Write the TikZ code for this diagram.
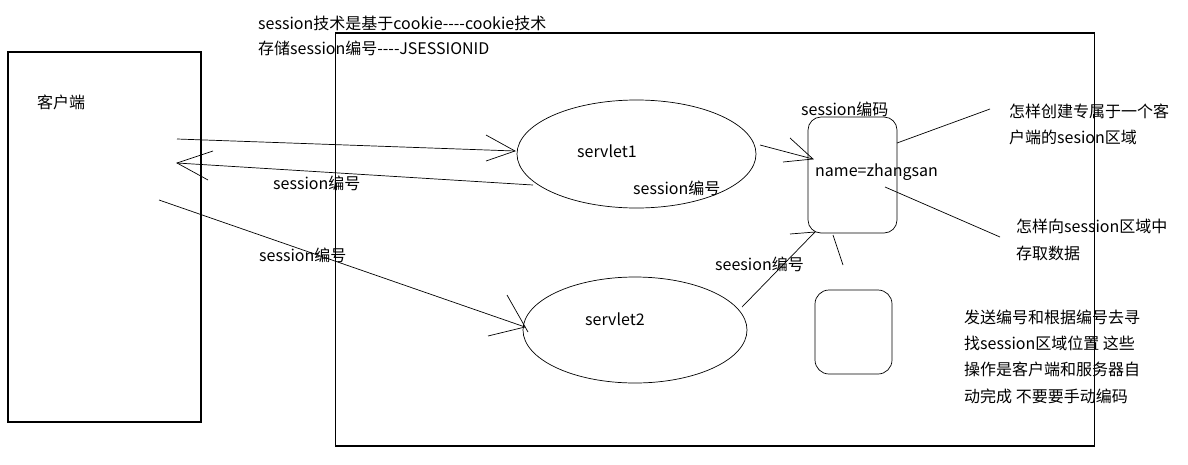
\documentclass[tikz,border=0pt]{standalone}
\usepackage{fontspec}
\setmainfont{Noto Sans CJK SC}[Ligatures=TeXOff]
\usetikzlibrary{shapes.geometric}
\begin{document}
\begin{tikzpicture}[x=1pt,y=-1pt,
  frame/.style={draw,line width=1.1pt},
  pen/.style={draw,line width=0.7pt},
  lbl/.style={anchor=west,inner sep=0pt,font=\fontsize{16pt}{20pt}\selectfont},
  oval/.style={draw,line width=0.7pt,ellipse,inner sep=0pt}]
\useasboundingbox[fill=white] (0,0) rectangle (1188,464);

% client and server frames
\node[frame,minimum width=193pt,minimum height=370pt,inner sep=0pt] (client) at (104.5,237) {};
\node[frame,minimum width=759pt,minimum height=413pt,inner sep=0pt] (server) at (715,239.5) {};
\node[lbl] (clientlbl) at (37,102) {客户端};

% servlets
\node[oval,minimum width=239pt,minimum height=108pt] (s1) at (636.5,154) {};
\node[oval,minimum width=224pt,minimum height=106pt] (s2) at (635,330) {};
\node[lbl] (s1lbl) at (577,151) {servlet1};
\node[lbl] (s2lbl) at (585,319) {servlet2};

% session areas
\node[pen,rounded corners=13pt,minimum width=89pt,minimum height=116pt,inner sep=0pt] (area) at (852.5,175) {};
\node[pen,rounded corners=14pt,minimum width=77pt,minimum height=84pt,inner sep=0pt] (area2) at (853.5,332) {};
\node[lbl] (arealbl) at (801,109) {session编码};
\node[lbl] (data) at (815,172) {name=zhangsan};

% texts
\node[lbl] (t1) at (258,23) {session技术是基于cookie----cookie技术};
\node[lbl] (t2) at (258,48) {存储session编号----JSESSIONID};
\node[lbl] (n1) at (273,183) {session编号};
\node[lbl] (n2) at (633,188) {session编号};
\node[lbl] (n3) at (259,255) {session编号};
\node[lbl] (n4) at (715,264) {seesion编号};
\node[lbl] (q1a) at (1009,111) {怎样创建专属于一个客};
\node[lbl] (q1b) at (1009,137) {户端的sesion区域};
\node[lbl] (q2a) at (1016,226) {怎样向session区域中};
\node[lbl] (q2b) at (1016,253) {存取数据};
\node[lbl] (r1) at (964,317) {发送编号和根据编号去寻};
\node[lbl] (r2) at (964,343) {找session区域位置 这些};
\node[lbl] (r3) at (964,369) {操作是客户端和服务器自};
\node[lbl] (r4) at (964,396) {动完成 不要要手动编码};

% connector end points
\coordinate (a1s) at (177,139);
\coordinate (a1t) at (515,151);
\coordinate (a1u) at (486,135);
\coordinate (a1v) at (486,161);
\coordinate (a2s) at (533,185);
\coordinate (a2t) at (177,163);
\coordinate (a2u) at (213,151);
\coordinate (a2v) at (208,180);
\coordinate (a3s) at (159,200);
\coordinate (a3t) at (525,327);
\coordinate (a3u) at (507,295);
\coordinate (a3w) at (528,332);
\coordinate (a3v) at (488,336);
\coordinate (a4s) at (760,145);
\coordinate (a4t) at (813,159);
\coordinate (a4u) at (790,138);
\coordinate (a4v) at (783,162);
\coordinate (a5s) at (742,307);
\coordinate (a5t) at (815,232);
\coordinate (a5u) at (790,234);
\coordinate (a5w) at (833,235);
\coordinate (a5v) at (843,265);
\coordinate (p1s) at (897,143);
\coordinate (p1t) at (990,109);
\coordinate (p2s) at (885,187);
\coordinate (p2t) at (1000,237);

% request from client to servlet1
\draw[pen] (a1s) -- (a1t);
\draw[pen] (a1u) -- (a1t) -- (a1v);
% response back to client
\draw[pen] (a2s) -- (a2t);
\draw[pen] (a2u) -- (a2t) -- (a2v);
% request from client to servlet2
\draw[pen] (a3s) -- (a3t);
\draw[pen] (a3u) -- (a3w);
\draw[pen] (a3v) -- (a3t);
% servlets to the session area
\draw[pen] (a4s) -- (a4t);
\draw[pen] (a4u) -- (a4t) -- (a4v);
\draw[pen] (a5s) -- (a5t) -- (a5u);
\draw[pen] (a5w) -- (a5v);
% pointers to the notes
\draw[pen] (p1s) -- (p1t);
\draw[pen] (p2s) -- (p2t);
\end{tikzpicture}
\end{document}
